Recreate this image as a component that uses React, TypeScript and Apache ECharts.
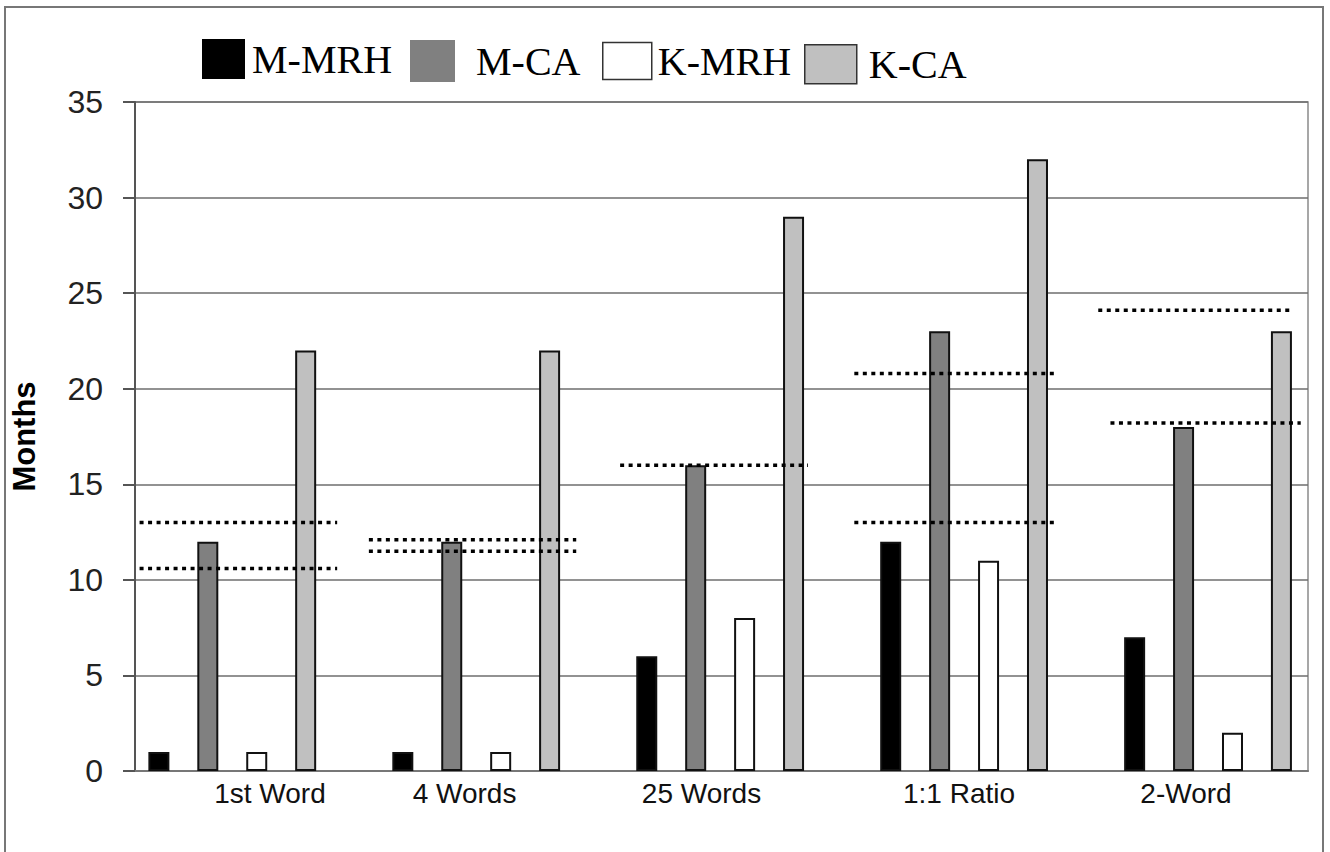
import React, { useEffect, useRef } from "react";
import * as echarts from "echarts";

const categories = ["1st Word", "4 Words", "25 Words", "1:1 Ratio", "2-Word"];
const seriesNames = ["M-MRH", "M-CA", "K-MRH", "K-CA"];
const mMrh = [1, 1, 6, 12, 7];
const mCa = [12, 12, 16, 23, 18];
const kMrh = [1, 1, 8, 11, 2];
const kCa = [22, 22, 29, 32, 23];
const yMin = 0;
const yMax = 35;
const yInterval = 5;
// dotted reference lines: value, start and end (in category units)
const refValues = [13, 10.6, 12.1, 11.5, 16, 20.8, 13, 24.1, 18.2];
const refStart = [-0.38, -0.38, 0.56, 0.56, 1.59, 2.55, 2.55, 3.55, 3.6];
const refEnd = [0.43, 0.43, 1.41, 1.41, 2.36, 3.38, 3.38, 4.34, 4.38];

// styling / layout
const colors = ["#000000", "#808080", "#ffffff", "#c0c0c0"];
const labelShift = [17.7, -22.4, -20, 2.9, -4.7];
const legendLeft = [202, 410, 602, 804];
const legendTop = [39, 40, 41, 44];
const legendW = [43, 45, 49, 52];
const legendH = [40, 42, 37, 39];
const legendTextPad = [2, 16, 1, 7];

export default function App() {
  const ref = useRef<HTMLDivElement>(null);
  useEffect(() => {
    document.body.style.margin = "0";
    const chart = echarts.init(ref.current!, null, { renderer: "svg" });
    const rich: Record<string, any> = {};
    categories.forEach((_, i) => {
      const s = labelShift[i];
      rich["l" + i] = {
        fontSize: 28,
        fontFamily: "Liberation Sans",
        color: "#111",
        padding: [0, Math.max(0, -2 * s), 0, Math.max(0, 2 * s)],
      };
    });
    const seriesData = [mMrh, mCa, kMrh, kCa];
    const bars = seriesNames.map((name, i) => ({
      type: "bar",
      name,
      xAxisIndex: 1,
      yAxisIndex: 1,
      data: seriesData[i],
      barWidth: 21,
      barGap: "133%",
      itemStyle: { color: colors[i], borderColor: "#111", borderWidth: 2 },
      z: 3,
    }));
    const lines = refValues.map((v, i) => ({
      type: "line",
      xAxisIndex: 2,
      yAxisIndex: 1,
      data: [
        [refStart[i], v],
        [refEnd[i], v],
      ],
      symbol: "none",
      lineStyle: { color: "#000", width: 3.5, type: [4, 4.5], cap: "butt" },
      z: 6,
      silent: true,
    }));
    const legends = seriesNames.map((name, i) => ({
      data: [{ name, icon: "rect" }],
      left: legendLeft[i],
      top: legendTop[i],
      itemWidth: legendW[i],
      itemHeight: legendH[i],
      orient: "horizontal",
      padding: 0,
      selectedMode: false,
      itemStyle:
        i >= 2
          ? { borderColor: "#333", borderWidth: 1.5 }
          : { borderWidth: 0 },
      textStyle: {
        fontFamily: "Liberation Serif",
        fontSize: 40,
        color: "#000",
        lineHeight: legendH[i],
        padding: [0, 0, 0, legendTextPad[i]],
      },
    }));
    chart.setOption({
      animation: false,
      backgroundColor: "#fff",
      legend: legends,
      graphic: [
        {
          type: "rect",
          shape: { x: 5, y: 7, width: 1318, height: 900 },
          style: { fill: "none", stroke: "#777", lineWidth: 2 },
          silent: true,
          z: 100,
        },
      ],
      grid: [
        { left: 135, right: 22, top: 102, bottom: 81, show: true, borderColor: "#8a8a8a", borderWidth: 1.5 },
        { left: 110.3, width: 1222, top: 102, bottom: 81 },
      ],
      xAxis: [
        {
          type: "category",
          gridIndex: 0,
          data: categories,
          axisLine: { show: true, lineStyle: { color: "#777", width: 2 } },
          axisTick: { show: false },
          axisLabel: {
            margin: 8,
            formatter: (v: string, i: number) => `{l${i}|${v}}`,
            rich,
          },
        },
        {
          type: "category",
          gridIndex: 1,
          data: categories,
          show: false,
        },
        {
          type: "value",
          gridIndex: 1,
          min: -0.5,
          max: 4.5,
          show: false,
          position: "top",
        },
      ],
      yAxis: [
        {
          type: "value",
          gridIndex: 0,
          min: yMin,
          max: yMax,
          interval: yInterval,
          name: "Months",
          nameLocation: "middle",
          nameGap: 95,
          nameTextStyle: { fontFamily: "Liberation Sans", fontSize: 31, fontWeight: "bold", color: "#000" },
          axisLine: { show: true, lineStyle: { color: "#555", width: 2 } },
          axisTick: { show: true, inside: false, length: 12, lineStyle: { color: "#555", width: 2 } },
          axisLabel: { margin: 32, fontFamily: "Liberation Sans", fontSize: 32, color: "#222" },
          splitLine: { show: true, lineStyle: { color: "#6e6e6e", width: 1.5 } },
        },
        {
          type: "value",
          gridIndex: 1,
          min: yMin,
          max: yMax,
          show: false,
          splitLine: { show: false },
        },
      ],
      series: [...bars, ...lines],
    });
    return () => chart.dispose();
  }, []);
  return <div ref={ref} style={{ width: 1330, height: 852 }} />;
}
